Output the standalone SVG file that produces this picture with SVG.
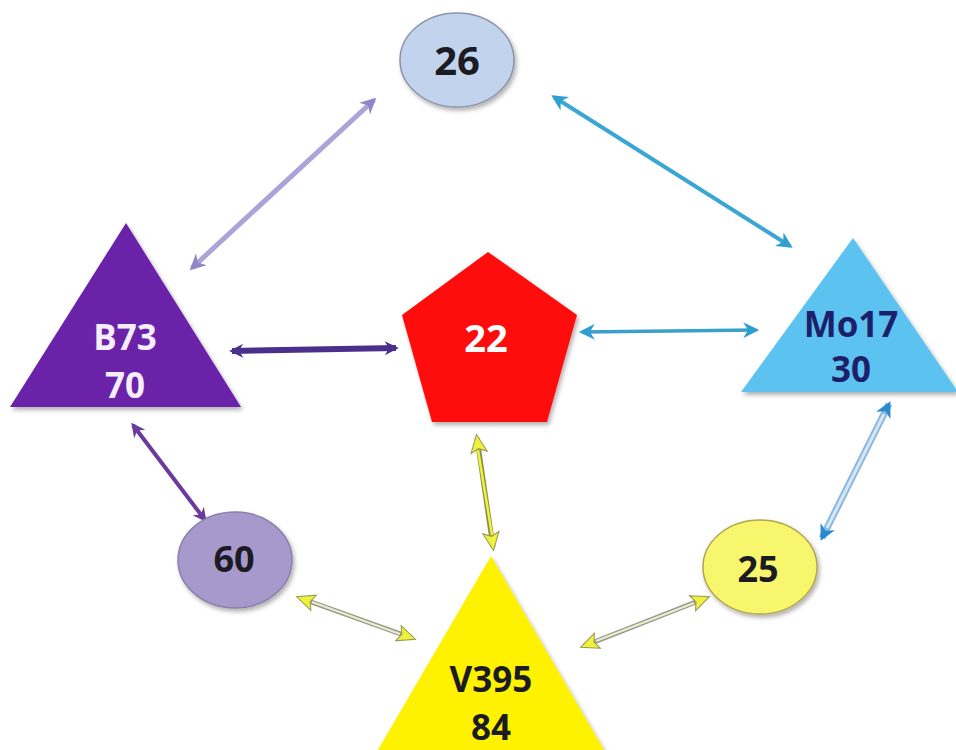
<svg xmlns="http://www.w3.org/2000/svg" width="956" height="750" viewBox="0 0 956 750">
<style>
text{font-family:"Open Sans","Liberation Sans",sans-serif;font-weight:bold;text-anchor:middle}
.dark{fill:#1b1b24}
.white{fill:#f4eefa}
.navy{fill:#1c1f6a}
.shadow{filter:url(#sh)}
</style>
<defs>
<filter id="sh" x="-20%" y="-20%" width="140%" height="140%"><feDropShadow dx="2" dy="3" stdDeviation="2" flood-color="#000" flood-opacity="0.3"/></filter>
<marker id="mLav" viewBox="0 0 10 10" refX="8" refY="5" markerWidth="18" markerHeight="16" markerUnits="userSpaceOnUse" orient="auto-start-reverse"><path d="M0,0 L10,5 L0,10 L3,5 Z" fill="#8f88c8"/></marker>
<marker id="mTeal" viewBox="0 0 10 10" refX="8" refY="5" markerWidth="18" markerHeight="16" markerUnits="userSpaceOnUse" orient="auto-start-reverse"><path d="M0,0 L10,5 L0,10 L3,5 Z" fill="#2f9fd0"/></marker>
<marker id="mDP" viewBox="0 0 10 10" refX="8" refY="5" markerWidth="16" markerHeight="14" markerUnits="userSpaceOnUse" orient="auto-start-reverse"><path d="M0,0 L10,5 L0,10 L3,5 Z" fill="#4a2f8c"/></marker>
<marker id="mPur" viewBox="0 0 10 10" refX="8" refY="5" markerWidth="16" markerHeight="14" markerUnits="userSpaceOnUse" orient="auto-start-reverse"><path d="M0,0 L10,5 L0,10 L3,5 Z" fill="#6a3a9c"/></marker>
<marker id="mBlue" viewBox="0 0 10 10" refX="8" refY="5" markerWidth="18" markerHeight="16" markerUnits="userSpaceOnUse" orient="auto-start-reverse"><path d="M0,0 L10,5 L0,10 L3,5 Z" fill="#2a8ad0"/></marker>
<marker id="mYel" viewBox="0 0 10 10" refX="8" refY="5" markerWidth="22" markerHeight="18" markerUnits="userSpaceOnUse" orient="auto-start-reverse"><path d="M0,0.5 L10,5 L0,9.5 L2,5 Z" fill="#eef23a" stroke="#9a9a5a" stroke-width="0.6"/></marker>
</defs>
<rect width="956" height="750" fill="#ffffff"/>

<g id="connectors">
<line x1="192" y1="268" x2="374" y2="100" stroke="#aaa4d8" stroke-width="5" marker-start="url(#mLav)" marker-end="url(#mLav)"/>
<line x1="554" y1="97" x2="790" y2="246" stroke="#3aa6d4" stroke-width="4" marker-start="url(#mTeal)" marker-end="url(#mTeal)"/>
<line x1="232" y1="351" x2="396" y2="348" stroke="#4a2f8c" stroke-width="6" marker-start="url(#mDP)" marker-end="url(#mDP)"/>
<line x1="582" y1="332" x2="756" y2="330" stroke="#3aa0c8" stroke-width="3.5" marker-start="url(#mTeal)" marker-end="url(#mTeal)"/>
<line x1="133" y1="425" x2="205" y2="520" stroke="#6a3a9c" stroke-width="4" marker-start="url(#mPur)" marker-end="url(#mPur)"/>
<g>
<line x1="889" y1="404" x2="822" y2="538" stroke="#8ab8de" stroke-width="7" marker-start="url(#mBlue)" marker-end="url(#mBlue)"/>
<line x1="884" y1="414" x2="827" y2="528" stroke="#d6e6f4" stroke-width="3"/>
</g>
<g>
<line x1="477" y1="438" x2="493" y2="547" stroke="#8c8f4a" stroke-width="5" marker-start="url(#mYel)" marker-end="url(#mYel)"/>
<line x1="478" y1="450" x2="492" y2="535" stroke="#eef23a" stroke-width="2.5"/>
</g>
<g>
<line x1="300" y1="598" x2="412" y2="638" stroke="#9a9a8a" stroke-width="5" marker-start="url(#mYel)" marker-end="url(#mYel)"/>
<line x1="312" y1="602" x2="400" y2="634" stroke="#eaeed0" stroke-width="2"/>
</g>
<g>
<line x1="706" y1="598" x2="584" y2="646" stroke="#9a9a8a" stroke-width="5" marker-start="url(#mYel)" marker-end="url(#mYel)"/>
<line x1="694" y1="603" x2="596" y2="641" stroke="#eaeed0" stroke-width="2"/>
</g>
</g>

<g id="n26">
<ellipse class="shadow" cx="457" cy="60" rx="57" ry="47" fill="#c2d3ee" stroke="#8d94a8" stroke-width="1.5"/>
<text class="dark" x="457" y="75" font-size="40">26</text>
</g>

<g id="B73">
<polygon class="shadow" points="126,223 10,407 241,407" fill="#6a23a8"/>
<text class="white" x="125" y="350" font-size="35">B73</text>
<text class="white" x="125" y="398" font-size="35">70</text>
</g>

<g id="n22">
<polygon class="shadow" points="488,252 577,315 547,422 432,422 402,315" fill="#ff0b0b"/>
<text x="486" y="352" font-size="38" fill="#ffffff">22</text>
</g>

<g id="Mo17">
<polygon class="shadow" points="853,238 741,392 958,392" fill="#5cc2f0"/>
<text class="navy" x="851" y="337" font-size="35">Mo17</text>
<text class="navy" x="851" y="382" font-size="35">30</text>
</g>

<g id="n60">
<ellipse class="shadow" cx="235" cy="560" rx="57" ry="48" fill="#a899cc" stroke="#8a80aa" stroke-width="1.5"/>
<text class="dark" x="234" y="572" font-size="36">60</text>
</g>

<g id="n25">
<ellipse class="shadow" cx="760" cy="567" rx="57" ry="47" fill="#f8f66c" stroke="#b0a850" stroke-width="1.5"/>
<text class="dark" x="758" y="582" font-size="36">25</text>
</g>

<g id="V395">
<polygon class="shadow" points="491,556 372,760 610,760" fill="#fff200"/>
<text class="dark" x="491" y="692" font-size="35">V395</text>
<text class="dark" x="491" y="740" font-size="35">84</text>
</g>
</svg>
